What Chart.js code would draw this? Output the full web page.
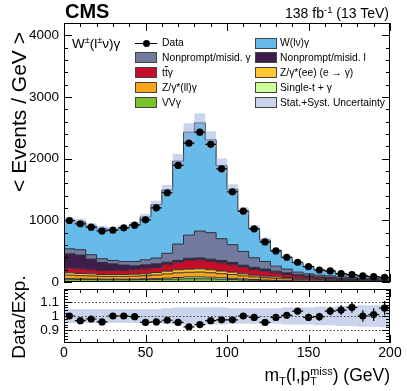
<!DOCTYPE html>
<html><head><meta charset="utf-8">
<script src="https://cdn.jsdelivr.net/npm/chart.js@4.4.0/dist/chart.umd.min.js"></script>
<style>
html,body{margin:0;padding:0;background:#fff;}
#wrap{position:relative;width:407px;height:391px;overflow:hidden;font-family:"Liberation Sans",Arial,Helvetica,sans-serif;color:#000;}
canvas{position:absolute;left:0;top:0;}
.t{position:absolute;white-space:nowrap;line-height:1;}
.rot{transform:translate(-50%,-50%) rotate(-90deg);}
.sup{font-size:0.68em;position:relative;top:-0.55em;}
.box{position:absolute;width:22px;height:11px;box-sizing:border-box;border:1px solid #444;}
.lt{position:absolute;font-size:10.3px;line-height:12px;white-space:nowrap;}
.ss{display:inline-block;vertical-align:-0.42em;line-height:0.95;font-size:0.62em;text-align:left;}
.ss span{display:block;}
</style></head>
<body>
<div id="wrap">
<canvas id="cMain" width="407" height="391"></canvas>
<canvas id="cRatio" width="407" height="391"></canvas>

<div class="t" style="left:65px;top:1px;font-size:20px;font-weight:bold;">CMS</div>
<div class="t" style="right:18px;top:6px;font-size:14px;">138 fb<span class="sup">-1</span> (13 TeV)</div>
<div class="t rot" style="left:18px;top:112px;font-size:21px;">&lt; Events / GeV &gt;</div>
<div class="t rot" style="left:18px;top:317px;font-size:19px;">Data/Exp.</div>
<div class="t" style="right:17px;top:366px;font-size:17.5px;">m<span style="font-size:0.65em;position:relative;top:0.35em">T</span>(l,p<span class="ss"><span>miss</span><span>T</span></span>) (GeV)</div>

<div class="t" style="left:72px;top:37px;font-size:13.5px;">W<span class="sup">±</span>(l<span class="sup">±</span>ν)γ</div>

<!-- legend -->
<div style="position:absolute;left:135px;top:43px;width:22px;height:1px;background:#000;"></div>
<div style="position:absolute;left:142.5px;top:40px;width:7px;height:7px;border-radius:50%;background:#000;"></div>
<div class="lt" style="left:162px;top:37px;">Data</div>
<div class="box" style="left:255px;top:38px;background:#67bbe8;"></div>
<div class="lt" style="left:280px;top:37px;">W(lν)γ</div>

<div class="box" style="left:135px;top:52px;background:#727b9e;"></div>
<div class="lt" style="left:162px;top:51.5px;">Nonprompt/misid. γ</div>
<div class="box" style="left:255px;top:52px;background:#3f1d4a;"></div>
<div class="lt" style="left:280px;top:51.5px;">Nonprompt/misid. l</div>

<div class="box" style="left:135px;top:67px;background:#c40e2a;"></div>
<div class="lt" style="left:162px;top:66.5px;">t<span style="text-decoration:overline">t</span>γ</div>
<div class="box" style="left:255px;top:67px;background:#fdc82f;"></div>
<div class="lt" style="left:280px;top:66.5px;">Z/γ*(ee) (e → γ)</div>

<div class="box" style="left:135px;top:82px;background:#f8a51c;"></div>
<div class="lt" style="left:162px;top:81.5px;">Z/γ*(ll)γ</div>
<div class="box" style="left:255px;top:82px;background:#ccff99;"></div>
<div class="lt" style="left:280px;top:81.5px;">Single-t + γ</div>

<div class="box" style="left:135px;top:97px;background:#7ac32b;"></div>
<div class="lt" style="left:162px;top:96.5px;">VVγ</div>
<div class="box" style="left:255px;top:97px;background:#c9d3ec;"></div>
<div class="lt" style="left:280px;top:96.5px;">Stat.+Syst. Uncertainty</div>
</div>

<script>
// ---------------- data ----------------
const binLo = 0, binHi = 200, nBins = 30;
const xTickLabels = [0, 50, 100, 150, 200];
const yTickLabels = [0, 1000, 2000, 3000, 4000];
const ratioTickLabels = [0.9, 1.0, 1.1];

// stacked backgrounds, bottom to top (per bin, <events/GeV>)
const vvg     = [45,42,40,38,37,37,38,40,42,45,48,52,52,50,45,40,33,28,23,19,16,13,11,9,8,7,6,5,4,4];
const singleT = [8,8,8,8,8,8,8,12,12,18,25,30,30,28,24,20,16,12,9,7,5,4,3,3,2,2,2,1,1,1];
const zllg    = [58,53,51,46,46,46,49,49,60,68,75,76,79,72,65,60,50,43,38,35,31,26,22,18,16,13,10,9,8,6];
const zee     = [38,35,34,30,31,31,32,32,40,45,50,50,53,48,44,40,34,28,25,23,21,17,14,12,10,8,7,6,5,4];
const ttg     = [76,76,65,65,65,65,71,81,82,103,124,149,146,142,133,119,108,92,81,65,49,40,32,26,21,18,15,13,11,10];
const npLep   = [233,222,173,130,108,87,65,65,59,43,28,28,30,30,37,38,32,34,33,27,27,20,18,16,14,12,11,9,8,7];
const npPho   = [81,87,71,60,55,59,70,81,93,143,265,375,436,430,354,288,223,156,124,81,60,40,33,27,29,24,22,19,20,19];
const wg      = [458,452,466,488,490,545,594,695,868,1027,1345,1670,1754,1505,1186,899,653,478,348,252,190,149,119,85,73,46,39,36,29,21];

const dataVals = [997,943,889,829,840,878,922,1008,1203,1447,1891,2251,2430,2232,1835,1463,1149,862,650,504,401,320,249,195,179,135,119,98,87,76];
const ratioVals = [1.00,0.967,0.979,0.958,1.00,1.00,0.995,0.955,0.958,0.97,0.955,0.923,0.94,0.967,0.973,0.973,1.00,0.99,0.955,0.99,1.005,1.035,0.99,0.995,1.035,1.042,1.06,1.00,1.01,1.056];
const ratioErr  = [0.012,0.012,0.013,0.013,0.013,0.013,0.013,0.012,0.011,0.01,0.009,0.008,0.008,0.008,0.009,0.01,0.012,0.013,0.016,0.018,0.02,0.022,0.025,0.028,0.03,0.035,0.037,0.04,0.045,0.05];
const uncRel    = [0.05,0.05,0.05,0.05,0.05,0.05,0.05,0.05,0.05,0.055,0.06,0.06,0.06,0.06,0.06,0.055,0.055,0.055,0.055,0.055,0.06,0.06,0.06,0.065,0.065,0.07,0.07,0.075,0.075,0.08];

// ---------------- helpers ----------------
const binW = (binHi - binLo) / nBins;
const edges = Array.from({length: nBins + 1}, (_, i) => binLo + i * binW);
const centers = Array.from({length: nBins}, (_, i) => binLo + (i + 0.5) * binW);
function stepPts(vals) {
  const p = vals.map((v, i) => ({x: edges[i], y: v}));
  p.push({x: edges[nBins], y: vals[nBins - 1]});
  return p;
}
const layers = [vvg, singleT, zllg, zee, ttg, npLep, npPho, wg];
const expTotal = centers.map((_, i) => layers.reduce((s, a) => s + a[i], 0));

Chart.defaults.font.family = '"Liberation Sans", Arial, Helvetica, sans-serif';
Chart.defaults.color = '#000';

function framePlugin(cfg) {
  return {
    id: 'frame' + cfg.name,
    afterDatasetsDraw(chart) {
      const {ctx, chartArea: a} = chart;
      const xs = chart.scales.x, ys = chart.scales.y;
      ctx.save();
      if (cfg.dotted) {
        ctx.strokeStyle = '#444'; ctx.lineWidth = 1; ctx.setLineDash([1.5, 2]);
        ctx.beginPath();
        cfg.dotted.forEach(v => { const y = Math.round(ys.getPixelForValue(v)) + 0.5; ctx.moveTo(a.left, y); ctx.lineTo(a.right, y); });
        ctx.stroke(); ctx.setLineDash([]);
      }
      if (cfg.err) {
        ctx.strokeStyle = '#000'; ctx.lineWidth = 1.2;
        ctx.beginPath();
        cfg.err.forEach(p => {
          const y = ys.getPixelForValue(p.y), xc = xs.getPixelForValue(p.x);
          ctx.moveTo(xs.getPixelForValue(p.x - binW / 2), y); ctx.lineTo(xs.getPixelForValue(p.x + binW / 2), y);
          ctx.moveTo(xc, ys.getPixelForValue(p.y - p.e)); ctx.lineTo(xc, ys.getPixelForValue(p.y + p.e));
        });
        ctx.stroke();
      }
      ctx.strokeStyle = '#000'; ctx.lineWidth = 1;
      ctx.beginPath();
      const nx = Math.round((cfg.xMax - cfg.xMin) / cfg.xMinor);
      for (let i = 0; i <= nx; i++) {
        const v = cfg.xMin + i * cfg.xMinor;
        const major = Math.abs(v / cfg.xMajor - Math.round(v / cfg.xMajor)) < 1e-6;
        const L = major ? cfg.xMajLen : cfg.xMinLen;
        const px = Math.round(xs.getPixelForValue(v)) + 0.5;
        ctx.moveTo(px, a.bottom); ctx.lineTo(px, a.bottom - L);
        ctx.moveTo(px, a.top); ctx.lineTo(px, a.top + L);
      }
      const y0 = Math.ceil(ys.min / cfg.yMinor - 1e-6);
      const y1 = Math.floor(ys.max / cfg.yMinor + 1e-6);
      for (let k = y0; k <= y1; k++) {
        const v = k * cfg.yMinor;
        const major = Math.abs(v / cfg.yMajor - Math.round(v / cfg.yMajor)) < 1e-6;
        const L = major ? cfg.yMajLen : cfg.yMinLen;
        const py = Math.round(ys.getPixelForValue(v)) + 0.5;
        ctx.moveTo(a.left, py); ctx.lineTo(a.left + L, py);
        ctx.moveTo(a.right, py); ctx.lineTo(a.right - L, py);
      }
      ctx.stroke();
      ctx.strokeRect(a.left + 0.5, a.top + 0.5, a.right - a.left - 1, a.bottom - a.top - 1);
      ctx.restore();
    }
  };
}

const layerStyle = [
  {label: 'VVγ', color: '#7ac32b'},
  {label: 'Single-t + γ', color: '#ccff99'},
  {label: 'Z/γ*(ll)γ', color: '#f8a51c'},
  {label: 'Z/γ*(ee) (e → γ)', color: '#fdc82f'},
  {label: 'ttγ', color: '#c40e2a'},
  {label: 'Nonprompt/misid. l', color: '#3f1d4a'},
  {label: 'Nonprompt/misid. γ', color: '#727b9e'},
  {label: 'W(lν)γ', color: '#67bbe8'}
];
const bandColor = 'rgba(158,176,220,0.55)';

const mainDatasets = layers.map((arr, i) => ({
  type: 'line', label: layerStyle[i].label, data: stepPts(arr), stack: 'mc', order: 10,
  stepped: 'before', fill: i === 0 ? 'origin' : '-1',
  backgroundColor: layerStyle[i].color, borderColor: '#2e2e3a', borderWidth: 1,
  pointRadius: 0, tension: 0
}));
mainDatasets.push({
  type: 'line', label: 'bandLo', data: stepPts(expTotal.map((t, i) => t * (1 - uncRel[i]))), stack: 'blo', order: 5,
  stepped: 'before', fill: false, borderWidth: 0, pointRadius: 0
});
mainDatasets.push({
  type: 'line', label: 'bandHi', data: stepPts(expTotal.map((t, i) => t * (1 + uncRel[i]))), stack: 'bhi', order: 5,
  stepped: 'before', fill: '-1', backgroundColor: bandColor, borderWidth: 0, pointRadius: 0
});
mainDatasets.push({
  type: 'line', label: 'Data', data: centers.map((x, i) => ({x, y: dataVals[i]})), stack: 'dat', order: 0,
  showLine: false, pointRadius: 3.6, pointBackgroundColor: '#000', pointBorderWidth: 0
});

new Chart(document.getElementById('cMain'), {
  type: 'line',
  data: {datasets: mainDatasets},
  options: {
    responsive: false, animation: false, devicePixelRatio: 1,
    layout: {padding: {left: 0, right: 17, top: 23, bottom: 109}},
    plugins: {legend: {display: false}, tooltip: {enabled: false}},
    scales: {
      x: {type: 'linear', min: binLo, max: binHi, display: false},
      y: {
        type: 'linear', min: 0, max: 4200, stacked: true,
        grid: {display: false, drawTicks: false}, border: {display: false},
        afterBuildTicks: s => { s.ticks = yTickLabels.map(v => ({value: v})); },
        afterFit: s => { s.width = 64; },
        ticks: {font: {size: 13.5}, color: '#000', padding: 5, callback: v => String(v)}
      }
    }
  },
  plugins: [framePlugin({
    name: 'main', xMin: binLo, xMax: binHi, xMinor: 10, xMajor: 50, xMajLen: 8, xMinLen: 4,
    yMinor: 200, yMajor: 1000, yMajLen: 8, yMinLen: 4,
    err: centers.map((x, i) => ({x, y: dataVals[i], e: ratioErr[i] * expTotal[i]}))
  })]
});

new Chart(document.getElementById('cRatio'), {
  type: 'line',
  data: {datasets: [
    {type: 'line', label: 'uncLo', data: stepPts(uncRel.map(u => 1 - u)), order: 5, stepped: 'before', fill: false, borderWidth: 0, pointRadius: 0},
    {type: 'line', label: 'uncHi', data: stepPts(uncRel.map(u => 1 + u)), order: 5, stepped: 'before', fill: '-1', backgroundColor: bandColor, borderWidth: 0, pointRadius: 0},
    {type: 'line', label: 'Data/Exp.', data: centers.map((x, i) => ({x, y: ratioVals[i]})), order: 0, showLine: false, pointRadius: 3.6, pointBackgroundColor: '#000', pointBorderWidth: 0}
  ]},
  options: {
    responsive: false, animation: false, devicePixelRatio: 1,
    layout: {padding: {left: 0, right: 17, top: 289, bottom: 0}},
    plugins: {legend: {display: false}, tooltip: {enabled: false}},
    scales: {
      x: {
        type: 'linear', min: binLo, max: binHi,
        grid: {display: false, drawTicks: false}, border: {display: false},
        afterBuildTicks: s => { s.ticks = xTickLabels.map(v => ({value: v})); },
        afterFit: s => { s.height = 48; },
        ticks: {font: {size: 14}, color: '#000', padding: 2, maxRotation: 0, autoSkip: false, callback: v => String(v)}
      },
      y: {
        type: 'linear', min: 0.81, max: 1.19,
        grid: {display: false, drawTicks: false}, border: {display: false},
        afterBuildTicks: s => { s.ticks = ratioTickLabels.map(v => ({value: v})); },
        afterFit: s => { s.width = 64; },
        ticks: {font: {size: 13.5}, color: '#000', padding: 5, callback: v => (Math.abs(v - 1) < 1e-9 ? '1' : v.toFixed(1))}
      }
    }
  },
  plugins: [framePlugin({
    name: 'ratio', xMin: binLo, xMax: binHi, xMinor: 10, xMajor: 50, xMajLen: 8, xMinLen: 4,
    yMinor: 0.02, yMajor: 0.1, yMajLen: 8, yMinLen: 4,
    dotted: ratioTickLabels,
    err: centers.map((x, i) => ({x, y: ratioVals[i], e: ratioErr[i]}))
  })]
});
</script>
</body></html>
